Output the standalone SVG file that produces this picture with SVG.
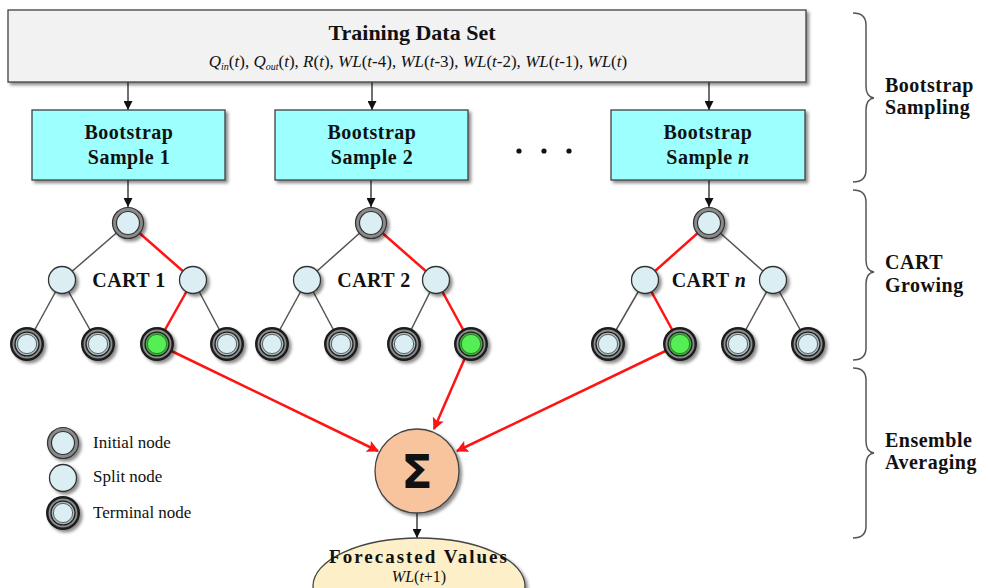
<svg xmlns="http://www.w3.org/2000/svg" xmlns:xlink="http://www.w3.org/1999/xlink" width="989" height="588" viewBox="0 0 989 588">
<style>
.serif{font-family:"Liberation Serif","Times New Roman",serif}
.b{font-weight:bold}
.i{font-style:italic}
.box{fill:#f2f2f2;stroke:#404040;stroke-width:1.3}
.cyan{fill:#9effff;stroke:#404040;stroke-width:1.3}
.edge{stroke:#555;stroke-width:1.5;fill:none}
.red{stroke:#ff1414;stroke-width:2.5;fill:none}
.blk{stroke:#222;stroke-width:1.3;fill:none}
.brace{stroke:#555;stroke-width:1.5;fill:none}
.lbl{font-size:20px;font-weight:bold;fill:#111;letter-spacing:0.5px}
.leg{font-size:17px;fill:#111}
</style>
<defs>
<filter id="sh" x="-30%" y="-30%" width="160%" height="160%">
<feDropShadow dx="2.5" dy="2.5" stdDeviation="1.6" flood-color="#000" flood-opacity="0.45"/>
</filter>
<marker id="ah" viewBox="0 0 10 10" refX="10" refY="5" markerWidth="9" markerHeight="9" markerUnits="userSpaceOnUse" orient="auto">
<path d="M0,0 L10,5 L0,10 z" fill="#111"/>
</marker>
<marker id="ahr" viewBox="0 0 10 10" refX="9" refY="5" markerWidth="14" markerHeight="12" markerUnits="userSpaceOnUse" orient="auto">
<path d="M0,0 L10,5 L0,10 L2,5 z" fill="#ff1414"/>
</marker>
<g id="initial" filter="url(#sh)">
<circle r="15.5" fill="#8a8a8a" stroke="#333" stroke-width="1.2"/>
<circle r="11.5" fill="#daeef3" stroke="#333" stroke-width="1.2"/>
</g>
<g id="split" filter="url(#sh)">
<circle r="13.5" fill="#daeef3" stroke="#333" stroke-width="1.3"/>
</g>
<g id="terminal" filter="url(#sh)">
<circle r="17" fill="#1c1c1c"/>
<circle r="14.5" fill="#8c8c8c"/>
<circle r="12.6" fill="#1c1c1c"/>
<circle r="11.3" fill="#a9bdc3"/>
<circle r="9.6" fill="#daeef3" stroke="#444" stroke-width="0.8"/>
</g>
<g id="terminalG" filter="url(#sh)">
<circle r="17" fill="#1c1c1c"/>
<circle r="14.5" fill="#8c8c8c"/>
<circle r="12.6" fill="#1c1c1c"/>
<circle r="11.3" fill="#3fae3f"/>
<circle r="9.6" fill="#55ee55" stroke="#2a6a2a" stroke-width="0.8"/>
</g>
</defs>
<rect width="989" height="588" fill="#fff"/>

<g id="connectors">
<line class="blk" x1="128" y1="82" x2="128" y2="110" marker-end="url(#ah)"/>
<line class="blk" x1="372" y1="82" x2="372" y2="110" marker-end="url(#ah)"/>
<line class="blk" x1="709" y1="82" x2="709" y2="110" marker-end="url(#ah)"/>
<line class="blk" x1="128" y1="180" x2="128" y2="207" marker-end="url(#ah)"/>
<line class="blk" x1="371" y1="180" x2="371" y2="207" marker-end="url(#ah)"/>
<line class="blk" x1="709" y1="180" x2="709" y2="207" marker-end="url(#ah)"/>
<line class="edge" x1="128" y1="223" x2="62" y2="280"/>
<line class="red" x1="128" y1="223" x2="193" y2="280"/>
<line class="edge" x1="62" y1="280" x2="27" y2="344"/>
<line class="edge" x1="62" y1="280" x2="98" y2="344"/>
<line class="red" x1="193" y1="280" x2="157" y2="344"/>
<line class="edge" x1="193" y1="280" x2="227" y2="344"/>
<line class="edge" x1="371" y1="223" x2="307" y2="280"/>
<line class="red" x1="371" y1="223" x2="436" y2="280"/>
<line class="edge" x1="307" y1="280" x2="272" y2="344"/>
<line class="edge" x1="307" y1="280" x2="341" y2="344"/>
<line class="edge" x1="436" y1="280" x2="404" y2="344"/>
<line class="red" x1="436" y1="280" x2="471" y2="344"/>
<line class="red" x1="709" y1="223" x2="645" y2="280"/>
<line class="edge" x1="709" y1="223" x2="773" y2="280"/>
<line class="edge" x1="645" y1="280" x2="608" y2="344"/>
<line class="red" x1="645" y1="280" x2="680" y2="344"/>
<line class="edge" x1="773" y1="280" x2="738" y2="344"/>
<line class="edge" x1="773" y1="280" x2="808" y2="344"/>
<line class="red" x1="157" y1="344" x2="378" y2="451" marker-end="url(#ahr)"/>
<line class="red" x1="471" y1="344" x2="434" y2="429" marker-end="url(#ahr)"/>
<line class="red" x1="680" y1="344" x2="457" y2="451" marker-end="url(#ahr)"/>
<line class="blk" x1="417" y1="513" x2="417" y2="538" marker-end="url(#ah)"/>
</g>

<g id="training-data">
<rect class="box" x="8" y="10" width="798" height="72" filter="url(#sh)"/>
<text class="serif b" x="412" y="40" font-size="22" text-anchor="middle" fill="#111">Training Data Set</text>
<text class="serif" x="418" y="67" font-size="17" text-anchor="middle" fill="#111"><tspan class="i">Q</tspan><tspan class="i" font-size="10" dy="3">in</tspan><tspan dy="-3">(</tspan><tspan class="i">t</tspan>), <tspan class="i">Q</tspan><tspan class="i" font-size="10" dy="3">out</tspan><tspan dy="-3">(</tspan><tspan class="i">t</tspan>), <tspan class="i">R</tspan>(<tspan class="i">t</tspan>), <tspan class="i">WL</tspan>(<tspan class="i">t</tspan>-4), <tspan class="i">WL</tspan>(<tspan class="i">t</tspan>-3), <tspan class="i">WL</tspan>(<tspan class="i">t</tspan>-2), <tspan class="i">WL</tspan>(<tspan class="i">t</tspan>-1), <tspan class="i">WL</tspan>(<tspan class="i">t</tspan>)</text>
</g>

<g id="bootstrap-1">
<rect class="cyan" x="32" y="110" width="193" height="70" filter="url(#sh)"/>
<text class="serif lbl" x="129" y="139" text-anchor="middle">Bootstrap</text>
<text class="serif lbl" x="129" y="164" text-anchor="middle">Sample 1</text>
</g>
<g id="bootstrap-2">
<rect class="cyan" x="275" y="110" width="193" height="70" filter="url(#sh)"/>
<text class="serif lbl" x="372" y="139" text-anchor="middle">Bootstrap</text>
<text class="serif lbl" x="372" y="164" text-anchor="middle">Sample 2</text>
</g>
<g id="bootstrap-n">
<rect class="cyan" x="611" y="110" width="194" height="70" filter="url(#sh)"/>
<text class="serif lbl" x="708" y="139" text-anchor="middle">Bootstrap</text>
<text class="serif lbl" x="708" y="164" text-anchor="middle">Sample <tspan class="i">n</tspan></text>
</g>
<g id="ellipsis">
<circle cx="519" cy="151" r="2.6" fill="#111"/>
<circle cx="544" cy="151" r="2.6" fill="#111"/>
<circle cx="569" cy="151" r="2.6" fill="#111"/>
</g>

<g id="cart-1">
<use xlink:href="#initial" x="128" y="223"/>
<use xlink:href="#split" x="62" y="280"/>
<use xlink:href="#split" x="193" y="280"/>
<use xlink:href="#terminal" x="27" y="344"/>
<use xlink:href="#terminal" x="98" y="344"/>
<use xlink:href="#terminalG" x="157" y="344"/>
<use xlink:href="#terminal" x="227" y="344"/>
<text class="serif lbl" x="129" y="287" text-anchor="middle">CART 1</text>
</g>
<g id="cart-2">
<use xlink:href="#initial" x="371" y="223"/>
<use xlink:href="#split" x="307" y="280"/>
<use xlink:href="#split" x="436" y="280"/>
<use xlink:href="#terminal" x="272" y="344"/>
<use xlink:href="#terminal" x="341" y="344"/>
<use xlink:href="#terminal" x="404" y="344"/>
<use xlink:href="#terminalG" x="471" y="344"/>
<text class="serif lbl" x="374" y="287" text-anchor="middle">CART 2</text>
</g>
<g id="cart-n">
<use xlink:href="#initial" x="709" y="223"/>
<use xlink:href="#split" x="645" y="280"/>
<use xlink:href="#split" x="773" y="280"/>
<use xlink:href="#terminal" x="608" y="344"/>
<use xlink:href="#terminalG" x="680" y="344"/>
<use xlink:href="#terminal" x="738" y="344"/>
<use xlink:href="#terminal" x="808" y="344"/>
<text class="serif lbl" x="709" y="287" text-anchor="middle">CART <tspan class="i">n</tspan></text>
</g>

<g id="sum">
<circle cx="417" cy="471" r="42" fill="#f8c49e" stroke="#444" stroke-width="1.3" filter="url(#sh)"/>
<text x="417" y="488" font-family="DejaVu Sans, sans-serif" font-weight="bold" font-size="46" text-anchor="middle" fill="#111">Σ</text>
</g>

<g id="forecast">
<ellipse cx="419" cy="586" rx="106" ry="48" fill="#fdefc7" stroke="#444" stroke-width="1.3" filter="url(#sh)"/>
<text class="serif b" x="419" y="563" font-size="19" letter-spacing="2" text-anchor="middle" fill="#111">Forecasted Values</text>
<text class="serif" x="419" y="582" font-size="16" text-anchor="middle" fill="#111"><tspan class="i">WL</tspan>(<tspan class="i">t</tspan>+1)</text>
</g>

<g id="legend">
<use xlink:href="#initial" x="63" y="443"/>
<use xlink:href="#split" x="63" y="478"/>
<use xlink:href="#terminal" x="63" y="513"/>
<text class="serif leg" x="93" y="448">Initial node</text>
<text class="serif leg" x="93" y="482">Split node</text>
<text class="serif leg" x="93" y="518">Terminal node</text>
</g>

<g id="stages">
<path class="brace" d="M853,13 Q866,13 866,25 L866,86 Q866,97 874,98 Q866,99 866,110 L866,170 Q866,182 853,182"/>
<path class="brace" d="M853,190 Q866,190 866,202 L866,260 Q866,271 874,272 Q866,273 866,284 L866,348 Q866,360 853,360"/>
<path class="brace" d="M853,368 Q866,368 866,380 L866,441 Q866,452 874,453 Q866,454 866,465 L866,526 Q866,538 853,538"/>
<text class="serif lbl" x="885" y="92">Bootstrap</text>
<text class="serif lbl" x="885" y="114">Sampling</text>
<text class="serif lbl" x="885" y="269">CART</text>
<text class="serif lbl" x="885" y="292">Growing</text>
<text class="serif lbl" x="885" y="447">Ensemble</text>
<text class="serif lbl" x="885" y="469">Averaging</text>
</g>
</svg>
